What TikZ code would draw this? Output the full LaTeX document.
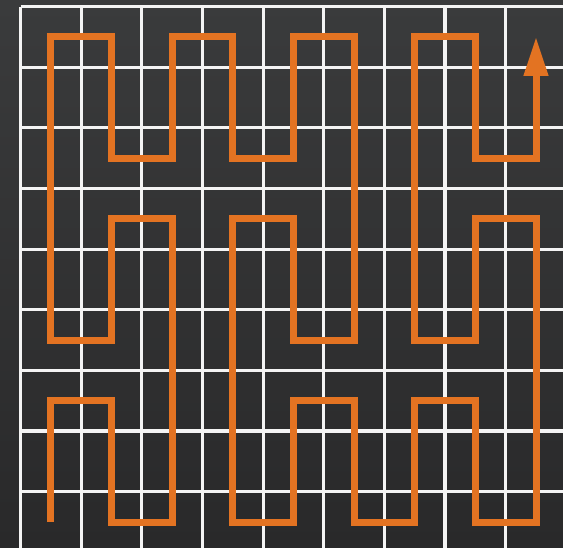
\documentclass[tikz,border=0pt]{standalone}
\usetikzlibrary{arrows.meta}
\definecolor{bgtop}{HTML}{3A3B3C}
\definecolor{bgbot}{HTML}{29292A}
\definecolor{gridc}{HTML}{F4F4F4}
\definecolor{curve}{HTML}{E37322}
\tikzset{
  gridline/.style={draw=gridc, line width=3.2pt},
  curveline/.style={draw=curve, line width=7pt, line join=miter, line cap=butt,
    -{Triangle[width=23pt,length=39pt]}}
}
\begin{document}
\begin{tikzpicture}[x=1pt,y=-1pt]
\useasboundingbox (0,0) rectangle (563,547);
\shade[top color=bgtop, bottom color=bgbot] (0,0) rectangle (563,547);
\begin{scope}
\clip (0,0) rectangle (563,547);
\foreach \k in {0,...,9}{
  \draw[gridline] ({20.5+60.65*\k},6.5) -- ({20.5+60.65*\k},560);
  \draw[gridline] (20.5,{6.5+60.65*\k}) -- (575,{6.5+60.65*\k});
}
\end{scope}
\begin{scope}[shift={(50.8,36.8)}, x=60.65pt, y=-60.65pt]
\draw[curveline] (0,8) -- (0,6) -- (1,6) -- (1,8) -- (2,8) -- (2,3) -- (1,3) -- (1,5) -- (0,5) -- (0,0)
  -- (1,0) -- (1,2) -- (2,2) -- (2,0) -- (3,0) -- (3,2) -- (4,2) -- (4,0) -- (5,0) -- (5,5)
  -- (4,5) -- (4,3) -- (3,3) -- (3,8) -- (4,8) -- (4,6) -- (5,6) -- (5,8) -- (6,8) -- (6,6)
  -- (7,6) -- (7,8) -- (8,8) -- (8,3) -- (7,3) -- (7,5) -- (6,5) -- (6,0) -- (7,0) -- (7,2)
  -- (8,2) -- (8,0);
\end{scope}
\end{tikzpicture}
\end{document}
